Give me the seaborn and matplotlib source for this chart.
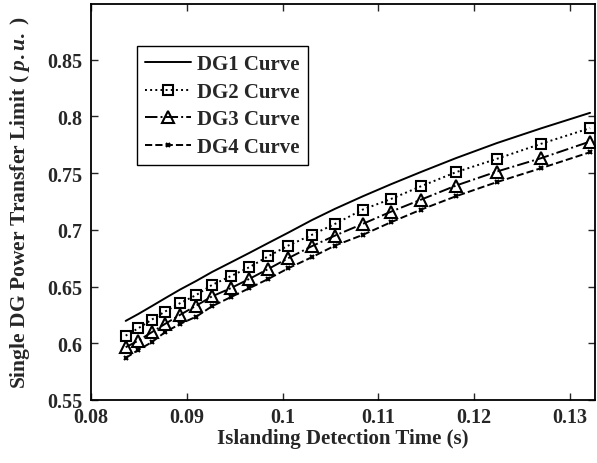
import matplotlib
matplotlib.use("Agg")
import matplotlib.pyplot as plt
import seaborn as sns
import numpy as np
import pandas as pd
from matplotlib.ticker import FixedLocator, FixedFormatter

# ---- data ----
x_time = [0.08362, 0.08494, 0.08634, 0.08772, 0.08929, 0.09100, 0.09263, 0.09458,
          0.09652, 0.09851, 0.10059, 0.10304, 0.10547, 0.10836, 0.11132, 0.11445,
          0.11810, 0.12235, 0.12697, 0.13209]
dg1 = [0.6197, 0.6258, 0.6327, 0.6396, 0.6473, 0.6550, 0.6628, 0.6712, 0.6796, 0.6884,
       0.6975, 0.7085, 0.7185, 0.7295, 0.7402, 0.7510, 0.7632, 0.7764, 0.7894, 0.8031]
dg2 = [0.6067, 0.6132, 0.6208, 0.6279, 0.6353, 0.6426, 0.6514, 0.6591, 0.6670, 0.6767,
       0.6861, 0.6955, 0.7052, 0.7178, 0.7272, 0.7384, 0.7508, 0.7625, 0.7758, 0.7896]
dg3 = [0.5965, 0.6023, 0.6097, 0.6170, 0.6250, 0.6332, 0.6413, 0.6485, 0.6567, 0.6655,
       0.6750, 0.6855, 0.6949, 0.7052, 0.7160, 0.7266, 0.7390, 0.7513, 0.7631, 0.7778]
dg4 = [0.5870, 0.5941, 0.6009, 0.6097, 0.6170, 0.6235, 0.6326, 0.6406, 0.6485, 0.6567,
       0.6661, 0.6758, 0.6861, 0.6955, 0.7067, 0.7178, 0.7296, 0.7420, 0.7543, 0.7684]
series_names = ["DG1 Curve", "DG2 Curve", "DG3 Curve", "DG4 Curve"]

x_ticks = [0.08, 0.09, 0.10, 0.11, 0.12, 0.13]
x_tick_labels = ["0.08", "0.09", "0.1", "0.11", "0.12", "0.13"]
y_ticks = [0.55, 0.60, 0.65, 0.70, 0.75, 0.80, 0.85]
y_tick_labels = ["0.55", "0.6", "0.65", "0.7", "0.75", "0.8", "0.85"]

sns.set_style("ticks")
plt.rcParams["font.family"] = ["Liberation Serif", "DejaVu Serif"]
plt.rcParams["font.weight"] = "bold"
plt.rcParams["mathtext.fontset"] = "custom"
plt.rcParams["mathtext.rm"] = "Liberation Serif:bold"
plt.rcParams["mathtext.it"] = "Liberation Serif:bold:italic"

fig = plt.figure(figsize=(5.97, 4.64), dpi=100)
ax = fig.add_axes([0.1524, 0.1358, 0.8442, 0.8534])

styles = [
    dict(linestyle="-", marker=None),
    dict(linestyle=":", marker="s", markersize=7),
    dict(linestyle="-.", marker="^", markersize=8),
    dict(linestyle="--", marker="x", markersize=3.5),
]
values = [dg1, dg2, dg3, dg4]
for name, vals, st in zip(series_names, values, styles):
    df = pd.DataFrame({"t": x_time, "p": vals})
    kw = dict(color="black", linewidth=1.4, linestyle=st["linestyle"])
    if st["marker"] is not None:
        kw.update(marker=st["marker"], markersize=st["markersize"],
                  markerfacecolor="none", markeredgecolor="black",
                  markeredgewidth=1.5)
    sns.lineplot(data=df, x="t", y="p", ax=ax, label=name, sort=False, **kw)

ax.set_xlim(0.08, 0.1326)
ax.set_ylim(0.55, 0.899)
ax.xaxis.set_major_locator(FixedLocator(x_ticks))
ax.xaxis.set_major_formatter(FixedFormatter(x_tick_labels))
ax.yaxis.set_major_locator(FixedLocator(y_ticks))
ax.yaxis.set_major_formatter(FixedFormatter(y_tick_labels))
ax.tick_params(direction="in", top=True, right=True, length=5, width=1.0,
               labelsize=14.5)
ax.tick_params(axis="x", pad=5)
ax.tick_params(axis="y", pad=6)
for lab in ax.get_xticklabels() + ax.get_yticklabels():
    lab.set_fontweight("bold")
for sp in ax.spines.values():
    sp.set_visible(True)
    sp.set_linewidth(1.3)
    sp.set_color("black")

ax.set_xlabel("Islanding Detection Time (s)", fontsize=15, fontweight="bold", labelpad=1)
ax.set_ylabel("Single DG Power Transfer Limit ( $p.u.$ )", fontsize=15.5,
              fontweight="bold", labelpad=11)

leg = ax.legend(loc="upper left", bbox_to_anchor=(0.0913, 0.894), borderaxespad=0,
                fancybox=False, frameon=True, edgecolor="black", framealpha=1,
                prop={"family": "Liberation Serif", "weight": "bold", "size": 15},
                handlelength=2.2, labelspacing=0.36, handletextpad=0.3,
                borderpad=0.4, numpoints=1)
leg.get_frame().set_linewidth(1.0)

fig.savefig("out.png", dpi=100)
